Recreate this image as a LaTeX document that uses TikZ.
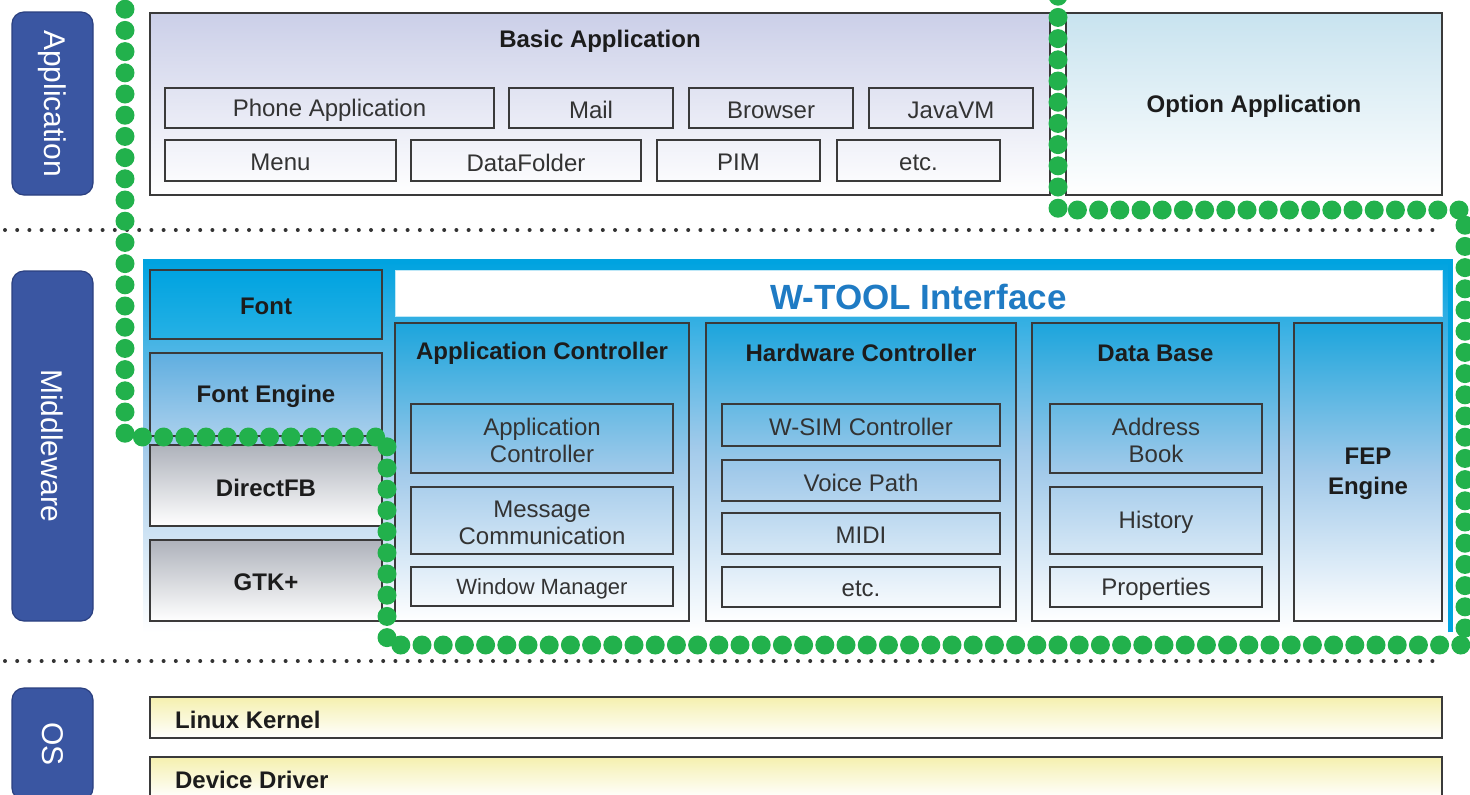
\documentclass[tikz,border=0pt]{standalone}
\usepackage{fontspec}
\setmainfont{Liberation Sans}
\usetikzlibrary{fit,positioning}

\definecolor{pillblue}{HTML}{3A56A2}
\definecolor{pilledge}{HTML}{2B4080}
\definecolor{wgreen}{HTML}{22B14C}
\definecolor{wcyan}{HTML}{00A3E0}
\definecolor{colcyan}{HTML}{1CA5DC}
\definecolor{midblue}{HTML}{A2CAEA}
\definecolor{wtitle}{HTML}{1F7BC4}
\definecolor{boxedge}{HTML}{3A3A3A}
\definecolor{appblue}{HTML}{CBCFE8}
\definecolor{optblue}{HTML}{C8E3EF}
\definecolor{engblue}{HTML}{5FAEE0}
\definecolor{engblue2}{HTML}{A8CFEC}
\definecolor{fbgray}{HTML}{AEB2BB}
\definecolor{kernyellow}{HTML}{F5F0AE}
\definecolor{textdark}{HTML}{1C1C1C}
\definecolor{textgray}{HTML}{333333}
\definecolor{sepgray}{HTML}{333333}

\tikzset{
  pill/.style={draw=pilledge, fill=pillblue, rounded corners=6pt, line width=0.6pt,
    inner sep=0pt},
  pilltext/.style={text=white, font=\fontsize{15}{18}\selectfont, rotate=-90},
  layer/.style={draw=boxedge, line width=0.9pt, inner sep=0pt},
  plain/.style={font=\fontsize{12}{13.5}\selectfont, text=textgray, align=center, yshift=-1pt},
  strong/.style={font=\bfseries\fontsize{12}{15}\selectfont, text=textdark, align=center, yshift=-1pt},
  coltitle/.style={strong, anchor=center, yshift=-14.5pt},
  column/.style={layer, top color=colcyan, bottom color=white, middle color=midblue},
  sepline/.style={sepgray, line width=2pt, line cap=round, dash pattern=on 0pt off 6.1pt},
  wtoolline/.style={wgreen, line width=9.5pt, line cap=round, dash pattern=on 0pt off 10.6pt}
}

\begin{document}
\begin{tikzpicture}[x=0.5pt,y=-0.5pt]
\useasboundingbox (0,0) rectangle (1470,794);

% layer tags
\node[pill, fit={(12,12) (93,195)}, label={[pilltext]center:Application}] (appTag) {};
\node[pill, fit={(12,271) (93,621)}, label={[pilltext]center:Middleware}] (mwTag) {};
\node[pill, fit={(12,688) (93,800)}, label={[pilltext]center:OS}] (osTag) {};

% application layer
\node[layer, top color=appblue, bottom color=white, fit={(150,13) (1050,195)},
  label={[coltitle, yshift=1pt]north:Basic Application}] (basicApp) {};
\node[layer, fit={(165,88) (494,128)}, label={[plain]center:Phone Application}] (phoneApp) {};
\node[layer, fit={(509,88) (673,128)}, label={[plain]center:Mail}] (mail) {};
\node[layer, fit={(689,88) (853,128)}, label={[plain]center:Browser}] (browser) {};
\node[layer, fit={(869,88) (1033,128)}, label={[plain]center:JavaVM}] (javaVM) {};
\node[layer, fit={(165,140) (396,181)}, label={[plain]center:Menu}] (menu) {};
\node[layer, fit={(411,140) (641,181)}, label={[plain]center:DataFolder}] (dataFolder) {};
\node[layer, fit={(657,140) (820,181)}, label={[plain]center:PIM}] (pim) {};
\node[layer, fit={(837,140) (1000,181)}, label={[plain]center:etc.}] (appEtc) {};
\node[layer, top color=optblue, bottom color=white, fit={(1066,13) (1442,195)},
  label={[strong]center:Option Application}] (optionApp) {};

% middleware layer
\node[inner sep=0pt, top color=wcyan, bottom color=white, middle color=midblue,
  fit={(143,262) (1450,632)}] (mwFrame) {};
\draw[wcyan, line width=2.5pt] (mwFrame.south east) -- (mwFrame.north east)
  -- (mwFrame.north west);
\node[fill=white, draw=wcyan!25, inner sep=0pt, fit={(395,270) (1442,316)},
  label={[font=\bfseries\fontsize{17.5}{20}\selectfont, text=wtitle, yshift=-2pt]center:W-TOOL Interface}] (wtoolBar) {};

\node[layer, top color=wcyan, bottom color=wcyan!85!white, fit={(150,270) (382,339)},
  label={[strong]center:Font}] (font) {};
\node[layer, top color=engblue, bottom color=engblue2, fit={(150,353) (382,436)},
  label={[strong]center:Font Engine}] (fontEngine) {};
\node[layer, top color=fbgray, bottom color=white, fit={(150,445) (382,526)},
  label={[strong]center:DirectFB}] (directFB) {};
\node[layer, top color=fbgray, bottom color=white, fit={(150,540) (382,621)},
  label={[strong]center:GTK+}] (gtk) {};

\node[column, fit={(395,323) (689,621)},
  label={[coltitle]north:Application Controller}] (appCtrl) {};
\node[layer, fit={(411,404) (673,473)}, label={[plain]center:Application\\Controller}] (appCtrlIn) {};
\node[layer, fit={(411,487) (673,554)}, label={[plain]center:Message\\Communication}] (msgComm) {};
\node[layer, fit={(411,567) (673,606)},
  label={[plain, font=\fontsize{11}{13}\selectfont]center:Window Manager}] (winMgr) {};

\node[column, fit={(706,323) (1016,621)},
  label={[coltitle]north:Hardware Controller}] (hwCtrl) {};
\node[layer, fit={(722,404) (1000,446)}, label={[plain]center:W-SIM Controller}] (wsim) {};
\node[layer, fit={(722,460) (1000,501)}, label={[plain]center:Voice Path}] (voicePath) {};
\node[layer, fit={(722,513) (1000,554)}, label={[plain]center:MIDI}] (midi) {};
\node[layer, fit={(722,567) (1000,607)}, label={[plain]center:etc.}] (hwEtc) {};

\node[column, fit={(1032,323) (1279,621)},
  label={[coltitle]north:Data Base}] (dataBase) {};
\node[layer, fit={(1050,404) (1262,473)}, label={[plain]center:Address\\Book}] (addrBook) {};
\node[layer, fit={(1050,487) (1262,554)}, label={[plain]center:History}] (history) {};
\node[layer, fit={(1050,567) (1262,607)}, label={[plain]center:Properties}] (props) {};

\node[column, fit={(1294,323) (1442,621)}, label={[strong]center:FEP\\Engine}] (fep) {};

% os layer
\node[layer, top color=kernyellow, bottom color=white, fit={(150,697) (1442,738)},
  label={[strong, anchor=west, xshift=9.5pt]west:Linux Kernel}] (kernel) {};
\node[layer, top color=kernyellow, bottom color=white, fit={(150,757) (1442,798)},
  label={[strong, anchor=west, xshift=9.5pt]west:Device Driver}] (driver) {};

% layer separators
\draw[sepline] (5,230) -- (1442,230);
\draw[sepline] (5,661) -- (1442,661);

% W-TOOL scope
\draw[wtoolline] (125,-12) -- (125,437) -- (387,437) -- (387,645) -- (1465,645)
  -- (1465,210) -- (1058,210) -- (1058,-12);
\end{tikzpicture}
\end{document}
